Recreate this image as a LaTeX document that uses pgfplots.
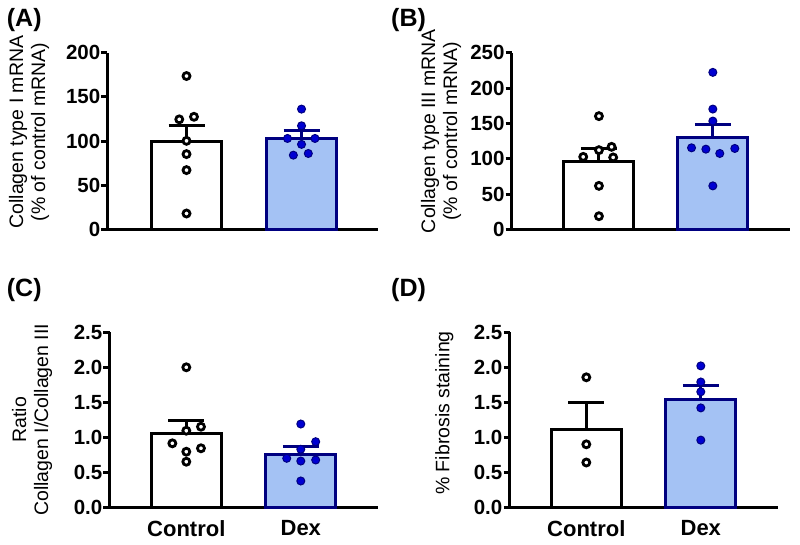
\documentclass[border=0pt]{standalone}
\usepackage{fontspec}
\setmainfont{Liberation Sans}
\usepackage{pgfplots}
\pgfplotsset{compat=1.18}
\definecolor{dexfill}{RGB}{164,194,244}
\definecolor{dexedge}{RGB}{0,0,128}
\definecolor{dexdot}{RGB}{0,0,210}
\pgfplotsset{
  panel/.style={
    scale only axis, anchor=south west, clip=false,
    axis x line=bottom, axis y line=left,
    axis line style={line width=3pt,-},
    every outer x axis line/.append style={-},
    every outer y axis line/.append style={-},
    tick align=outside, major tick length=6pt,
    ytick style={line width=3pt,black},
    xtick style={draw=none},
    tick label style={font=\fontsize{20.5}{24}\selectfont\bfseries},
    yticklabel style={inner sep=1pt},
    xticklabel style={font=\fontsize{22}{26}\selectfont\bfseries, yshift=-4pt},
    ylabel style={font=\fontsize{19.5}{22}\selectfont, align=center, anchor=center},
    ymin=0, enlargelimits=false,
    /pgf/number format/assume math mode=true,
  },
  ctrlbar/.style={ybar, bar width=70pt, bar shift=0pt, fill=white, draw=black, line width=3pt},
  dexbar/.style={ybar, bar width=70pt, bar shift=0pt, fill=dexfill, draw=dexedge, line width=3pt},
  ctrlerr/.style={ybar, bar width=70pt, bar shift=0pt, fill=none, draw=black, line width=3pt,
    error bars/.cd, y dir=plus, y explicit,
    error bar style={line width=3pt,black},
    error mark options={line width=3pt,black,mark size=18pt,rotate=90}},
  dexerr/.style={ybar, bar width=70pt, bar shift=0pt, fill=none, draw=dexedge, line width=3pt,
    error bars/.cd, y dir=plus, y explicit,
    error bar style={line width=3pt,dexedge},
    error mark options={line width=3pt,dexedge,mark size=18pt,rotate=90}},
  ctrlpts/.style={only marks, mark=*, mark size=3.5pt, mark options={fill=white,draw=black,line width=2.8pt}},
  dexpts/.style={only marks, mark=*, mark size=4pt, mark options={fill=dexdot,draw=dexedge,line width=1pt}},
}
\begin{document}
\begin{tikzpicture}
\path[use as bounding box] (0pt,0pt) rectangle (800pt,-545pt);
% Panel A
\begin{axis}[panel, at={(107.5pt,-229.5pt)}, width=270.5pt, height=176.8pt,
  xmin=0.313, xmax=2.665, ymax=200, ytick={0,50,100,150,200}, xtick=\empty,
  ylabel={Collagen type I mRNA\\(\% of control mRNA)},
  ylabel style={at={(axis description cs:-0.29,0.551)}}]
\addplot[ctrlbar] coordinates {(1,100)};
\addplot[dexbar] coordinates {(2,103.5)};
\addplot[ctrlpts] coordinates {(1,173.6) (0.937,124.6) (1.065,127.5) (1,100.3) (1,85.3) (1,67.2) (1,18.1)};
\addplot[dexpts] coordinates {(2,136.2) (2,117.3) (1.878,103) (2,96.3) (2.117,103) (1.929,84.1) (2.059,86)};
\addplot[ctrlerr] coordinates {(1,100) +- (0,18)};
\addplot[dexerr] coordinates {(2,103.5) +- (0,8)};
\end{axis}
% Panel B
\begin{axis}[panel, at={(511.7pt,-229.5pt)}, width=278pt, height=176.8pt,
  xmin=0.234, xmax=2.675, ymax=250, ytick={0,50,100,150,200,250}, xtick=\empty,
  ylabel={Collagen type III mRNA\\(\% of control mRNA)},
  ylabel style={at={(axis description cs:-0.254,0.556)}}]
\addplot[ctrlbar] coordinates {(1,95.5)};
\addplot[dexbar] coordinates {(2,130)};
\addplot[ctrlpts] coordinates {(1,160.3) (0.862,102.7) (1,112.2) (1.111,116.9) (1.125,101.9) (1,61.7) (1,18.8)};
\addplot[dexpts] coordinates {(2,222.2) (2,170.3) (2,153.3) (1.813,115.5) (1.939,113.6) (2.061,107.5) (2.193,114.6) (2,61.7)};
\addplot[ctrlerr] coordinates {(1,95.5) +- (0,18.5)};
\addplot[dexerr] coordinates {(2,130) +- (0,19)};
\end{axis}
% Panel C
\begin{axis}[panel, at={(109.5pt,-507.3pt)}, width=268.8pt, height=175pt,
  xmin=0.329, xmax=2.677, ymax=2.5, ytick={0,0.5,1,1.5,2,2.5},
  yticklabel style={/pgf/number format/.cd, fixed, fixed zerofill, precision=1},
  xtick={1,2}, xticklabels={Control,Dex},
  ylabel={Ratio\\Collagen I/Collagen III},
  ylabel style={at={(axis description cs:-0.288,0.5)}}]
\addplot[ctrlbar] coordinates {(1,1.05)};
\addplot[dexbar] coordinates {(2,0.76)};
\addplot[ctrlpts] coordinates {(1,2.0) (1.128,1.151) (1,1.094) (0.878,0.914) (1.128,0.843) (1,0.794) (1,0.651)};
\addplot[dexpts] coordinates {(2,1.19) (2.13,0.937) (2,0.829) (1.877,0.70) (2,0.661) (2.13,0.676) (2,0.376)};
\addplot[ctrlerr] coordinates {(1,1.05) +- (0,0.185)};
\addplot[dexerr] coordinates {(2,0.76) +- (0,0.108)};
\end{axis}
% Panel D
\begin{axis}[panel, at={(509.5pt,-507.3pt)}, width=268.8pt, height=175pt,
  xmin=0.329, xmax=2.677, ymax=2.5, ytick={0,0.5,1,1.5,2,2.5},
  yticklabel style={/pgf/number format/.cd, fixed, fixed zerofill, precision=1},
  xtick={1,2}, xticklabels={Control,Dex},
  ylabel={\% Fibrosis staining},
  ylabel style={at={(axis description cs:-0.242,0.539)}}]
\addplot[ctrlbar] coordinates {(1,1.105)};
\addplot[dexbar] coordinates {(2,1.545)};
\addplot[ctrlpts] coordinates {(1,1.857) (1,0.90) (1,0.64)};
\addplot[dexpts] coordinates {(2,2.02) (2,1.79) (2,1.65) (2,1.42) (2,0.96)};
\addplot[ctrlerr] coordinates {(1,1.105) +- (0,0.39)};
\addplot[dexerr] coordinates {(2,1.545) +- (0,0.2)};
\end{axis}
\node[anchor=base west, inner sep=0, font=\fontsize{25}{30}\selectfont\bfseries] at (6.7pt,-26.7pt) {(A)};
\node[anchor=base west, inner sep=0, font=\fontsize{25}{30}\selectfont\bfseries] at (391pt,-26.7pt) {(B)};
\node[anchor=base west, inner sep=0, font=\fontsize{25}{30}\selectfont\bfseries] at (6.7pt,-296.7pt) {(C)};
\node[anchor=base west, inner sep=0, font=\fontsize{25}{30}\selectfont\bfseries] at (391pt,-296.7pt) {(D)};
\end{tikzpicture}
\end{document}
